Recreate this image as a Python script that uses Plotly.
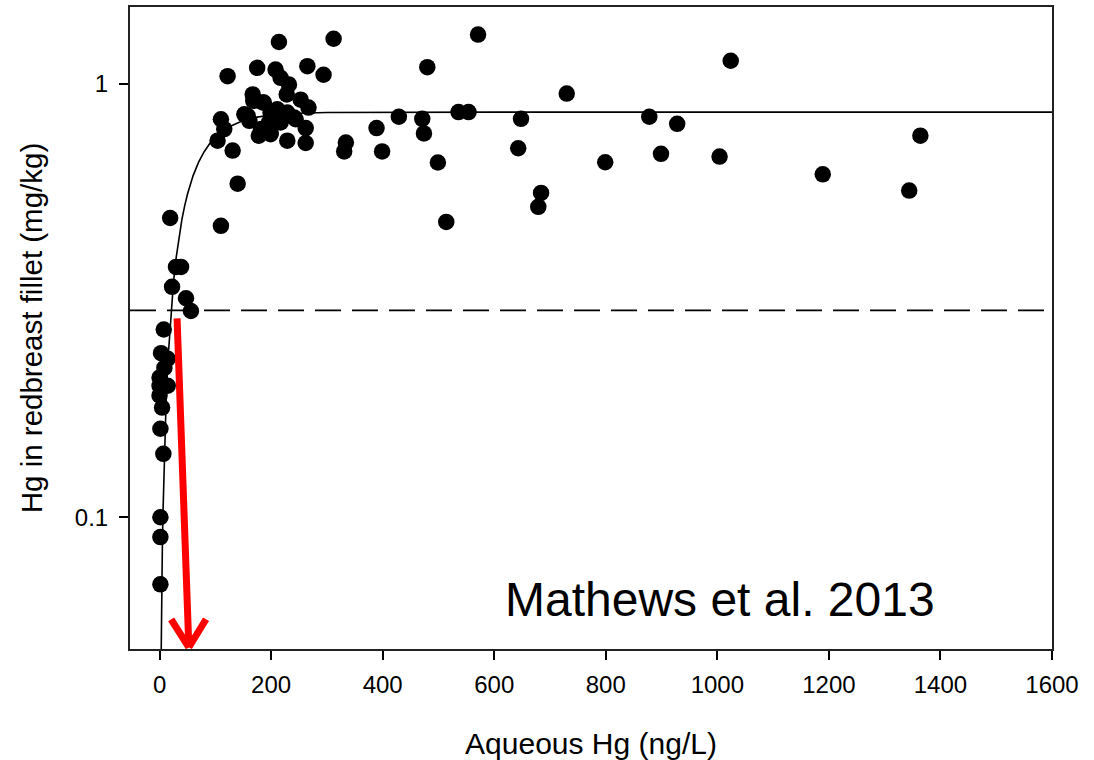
import plotly.graph_objects as go

# ---- data ----
aqueous_hg = [
    1024, 730, 928, 1004, 1189, 1364, 1344,
    312, 265, 294, 253, 267, 262, 262, 334, 331, 389, 399, 429, 471, 474, 480,
    499, 514, 536, 554, 571, 648, 643, 684, 679, 799, 878, 899,
    214, 122, 175, 208, 217, 232, 228, 167, 168, 185, 152, 161, 110, 116, 104,
    131, 140, 19, 110, 178, 199, 211, 229, 244, 229, 196, 182, 217, 187, 158,
    199, 241, 199,
    29.5, 38.5, 22.4, 47.4, 56.3, 7.5, 2.7, 14.6, 8.6, 0, 14.6, 0, 0, 4.5,
    1.5, 6.8, 1.5, 1.5, 1.5,
]
fillet_hg = [
    1.13, 0.949, 0.808, 0.679, 0.618, 0.759, 0.567,
    1.27, 1.098, 1.049, 0.919, 0.881, 0.790, 0.730, 0.732, 0.698, 0.790, 0.698,
    0.839, 0.830, 0.768, 1.092, 0.658, 0.480, 0.860, 0.860, 1.298, 0.830, 0.710,
    0.560, 0.520, 0.659, 0.839, 0.689,
    1.248, 1.041, 1.088, 1.078, 1.032, 0.996, 0.945, 0.945, 0.913, 0.905, 0.850,
    0.821, 0.828, 0.786, 0.739, 0.701, 0.588, 0.490, 0.470, 0.759, 0.772, 0.873,
    0.858, 0.828, 0.739, 0.814, 0.786, 0.814, 0.905, 0.843, 0.858, 0.836, 0.765,
    0.378, 0.378, 0.340, 0.320, 0.299, 0.271, 0.239, 0.232, 0.221, 0.210, 0.201,
    0.201, 0.191, 0.179, 0.160, 0.140, 0.100, 0.090, 0.070,
]

# fitted curve
fit_x = [2.5, 2.8, 3, 4, 5, 6, 8, 10, 12, 15, 20, 25, 30, 35, 40, 45, 50, 60,
         70, 80, 90, 100, 125, 150, 175, 200, 250, 300, 400, 600, 1600]
fit_y = [0.0436, 0.049, 0.052, 0.0687, 0.085, 0.101, 0.132, 0.1615, 0.190,
         0.2305, 0.2925, 0.349, 0.399, 0.4446, 0.486, 0.5227, 0.556, 0.613,
         0.6594, 0.697, 0.7277, 0.7525, 0.796, 0.822, 0.8374, 0.8466, 0.855,
         0.858, 0.8597, 0.86, 0.86]

threshold = 0.3

x_ticks = [0, 200, 400, 600, 800, 1000, 1200, 1400, 1600]
y_ticks = [0.1, 1]
y_tick_text = ["0.1", "1"]

# red arrow (x in ng/L, y as log10 of mg/kg)
arrow_start = (31.3, -0.5376)
arrow_tip = (52.5, -1.30)
arrow_left_arm = (19.0, -1.232)
arrow_right_arm = (85.0, -1.232)

FONT = "Arial, 'Liberation Sans', sans-serif"

fig = go.Figure()

fig.add_trace(go.Scatter(
    x=fit_x, y=fit_y, mode="lines",
    line=dict(color="black", width=1.6),
    hoverinfo="skip", showlegend=False,
))

fig.add_trace(go.Scatter(
    x=aqueous_hg, y=fillet_hg, mode="markers",
    marker=dict(color="black", size=16.5, line=dict(width=0)),
    showlegend=False,
))

fig.add_hline(y=threshold, line=dict(color="black", width=1.6, dash="26px,11px"))

annotations = []
for start in (arrow_start, arrow_left_arm, arrow_right_arm):
    annotations.append(dict(
        x=arrow_tip[0], y=arrow_tip[1], xref="x", yref="y",
        ax=start[0], ay=start[1], axref="x", ayref="y",
        text="", showarrow=True, arrowhead=0, arrowwidth=7, arrowcolor="#ff0000",
    ))

annotations.append(dict(
    x=1005, y=-1.19, xref="x", yref="y", text="Mathews et al. 2013",
    showarrow=False, font=dict(family=FONT, size=48, color="black"),
    xanchor="center", yanchor="middle",
))

fig.update_layout(
    width=1094, height=760,
    margin=dict(l=129.5, r=41.5, t=5, b=110.5),
    paper_bgcolor="white", plot_bgcolor="white",
    font=dict(family=FONT, color="black"),
    annotations=annotations,
    xaxis=dict(
        range=[-53, 1600], tickvals=x_ticks,
        ticks="outside", ticklen=9, tickwidth=1.5, tickcolor="black",
        ticklabelstandoff=4,
        showline=True, linecolor="#222", linewidth=2, mirror=True,
        showgrid=False, zeroline=False,
        tickfont=dict(family=FONT, size=24, color="black"),
        title=dict(text="Aqueous Hg (ng/L)", font=dict(family=FONT, size=30, color="black"), standoff=36),
    ),
    yaxis=dict(
        type="log", range=[-1.304, 0.177], tickvals=y_ticks, ticktext=y_tick_text,
        ticks="outside", ticklen=9, tickwidth=1.5, tickcolor="black",
        ticklabelstandoff=6,
        showline=True, linecolor="#222", linewidth=2, mirror=True,
        showgrid=False, zeroline=False,
        tickfont=dict(family=FONT, size=24, color="black"),
        title=dict(text="Hg in redbreast fillet (mg/kg)", font=dict(family=FONT, size=29.5, color="black"), standoff=24),
    ),
)

fig.write_html("out.html", config={"displayModeBar": False},
               post_script="document.body.style.margin='0px';")
